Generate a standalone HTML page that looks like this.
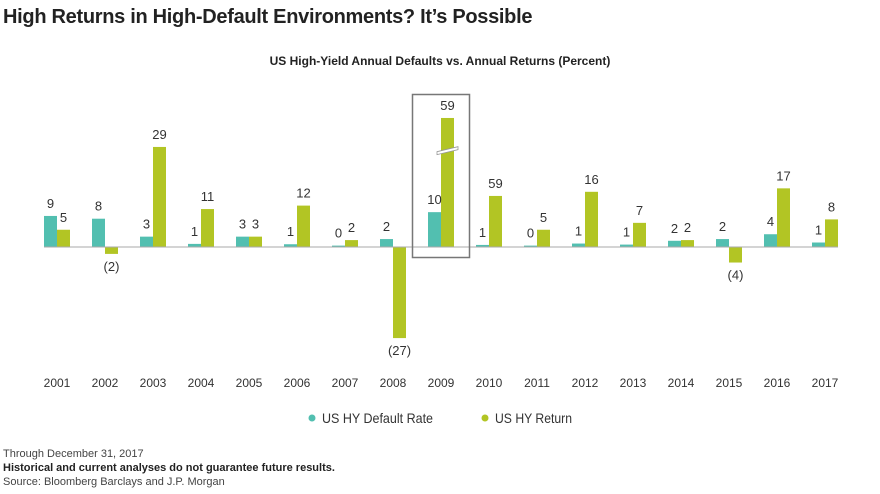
<!DOCTYPE html>
<html><head><meta charset="utf-8"><style>
body{margin:0;width:880px;height:494px;background:#fff;font-family:"Liberation Sans",sans-serif;overflow:hidden;position:relative}
.t{position:absolute;color:#222}
</style></head><body>
<div class="t" style="left:3px;top:6px;font-size:20px;font-weight:bold;letter-spacing:-0.3px">High Returns in High-Default Environments? It’s Possible</div>
<div class="t" style="left:0;width:880px;text-align:center;top:54px;font-size:12px;font-weight:bold">US High-Yield Annual Defaults vs. Annual Returns (Percent)</div>
<svg id="c" width="880" height="440" style="position:absolute;left:0;top:0" font-family="Liberation Sans, sans-serif"></svg>
<div class="t" style="left:3px;top:448px;font-size:11px;color:#444">Through December 31, 2017</div>
<div class="t" style="left:3px;top:462px;font-size:11px;font-weight:bold">Historical and current analyses do not guarantee future results.</div>
<div class="t" style="left:3px;top:476px;font-size:11px;color:#444">Source: Bloomberg Barclays and J.P. Morgan</div>
<script>
const years=["2001","2002","2003","2004","2005","2006","2007","2008","2009","2010","2011","2012","2013","2014","2015","2016","2017"];
const defaults=[9,8.2,3,0.9,3,0.8,0.4,2.3,10.1,0.6,0.4,1,0.7,1.8,2.3,3.7,1.3];
const returns=[5,-2,29,11,3,12,2,-26.4,59,14.8,5,16,7,2,-4.5,17,8];
const defaultLabels=["9","8","3","1","3","1","0","2","10","1","0","1","1","2","2","4","1"];
const returnLabels=["5","(2)","29","11","3","12","2","(27)","59","59","5","16","7","2","(4)","17","8"];
const cap=37.4;
const svg=document.getElementById('c');const NS='http://www.w3.org/2000/svg';
const base=247,k=3.45,x0=57,step=48,bw=13;
const y=v=>base-v*k;
const xc=i=>x0+i*step;
function mk(t,a){const e=document.createElementNS(NS,t);for(const n in a)e.setAttribute(n,a[n]);svg.appendChild(e);return e;}
years.forEach((yr,i)=>{
  const c=xc(i);
  const d=defaults[i];
  const r1=mk('rect',{x:c-bw,y:y(d),width:bw,height:Math.max(d*k,1),fill:'#52bfb0'});
  
  
  let r=returns[i];let broken=false;if(r>cap){r=cap;broken=true;}
  const top=r>=0?y(r):base;
  const r2=mk('rect',{x:c,y:top,width:bw,height:Math.abs(r)*k,fill:'#b2c524'});
  
  
  const l1=mk('text',{x:c-bw/2,y:y(d)-8,'text-anchor':'middle','font-size':13,fill:'#333'});l1.textContent=defaultLabels[i];
  
  
  const ly=r>=0?y(r)-8:y(r)+17;
  const l2=mk('text',{x:c+bw/2,y:ly,'text-anchor':'middle','font-size':13,fill:'#333'});l2.textContent=returnLabels[i];
  
  
  const yl=mk('text',{x:c,y:387,'text-anchor':'middle','font-size':12,fill:'#333'});yl.textContent=yr;
  
  
  if(broken){
    const yb=y(28.5);
    const bm=mk('polygon',{points:`${c-4},${yb+3} ${c+bw+4},${yb-2} ${c+bw+4},${yb+1} ${c-4},${yb+6}`,fill:'#fff',stroke:'#999','stroke-width':0.8});
    
    
  }
});
const ax=mk('line',{x1:44,x2:838,y1:base,y2:base,stroke:'#aaa','stroke-width':1});


const hb=mk('rect',{x:412.5,y:94.5,width:57,height:163,fill:'none',stroke:'#777','stroke-width':1.5});


const lg=[["US HY Default Rate","#52bfb0",312,111],["US HY Return","#b2c524",485,77]];
lg.forEach(([n,col,lx,tl])=>{
  const g=mk('g',{});
  
  
  const ci=document.createElementNS(NS,'circle');ci.setAttribute('cx',lx);ci.setAttribute('cy',418);ci.setAttribute('r',3.5);ci.setAttribute('fill',col);g.appendChild(ci);
  const tx=document.createElementNS(NS,'text');tx.setAttribute('x',lx+10);tx.setAttribute('y',423);tx.setAttribute('font-size',14);tx.setAttribute('fill','#333');tx.setAttribute('textLength',tl);tx.setAttribute('lengthAdjust','spacingAndGlyphs');tx.textContent=n;g.appendChild(tx);
});
</script>
</body></html>
